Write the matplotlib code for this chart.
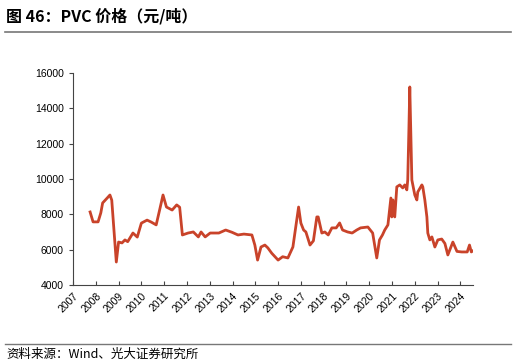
import matplotlib
matplotlib.use("Agg")
from matplotlib import pyplot as plt

plt.rcParams['font.family'] = ['Liberation Sans', 'Noto Sans CJK SC', 'DejaVu Sans']

# traced points: fractional year, price (yuan/ton)
years = [2007.75, 2007.88, 2008.10, 2008.22, 2008.30, 2008.50, 2008.62, 2008.70,
         2008.90, 2009.00, 2009.15, 2009.28, 2009.40, 2009.63, 2009.82, 2010.00,
         2010.25, 2010.43, 2010.65, 2010.80, 2010.95, 2011.10, 2011.35, 2011.55,
         2011.68, 2011.80, 2012.05, 2012.28, 2012.50, 2012.62, 2012.80, 2013.02,
         2013.40, 2013.70, 2013.98, 2014.24, 2014.50, 2014.85, 2014.98, 2015.10,
         2015.25, 2015.42, 2015.55, 2015.72, 2016.00, 2016.20, 2016.43, 2016.65,
         2016.80, 2016.90, 2017.00, 2017.12, 2017.22, 2017.40, 2017.55, 2017.70,
         2017.76, 2017.92, 2018.05, 2018.20, 2018.36, 2018.55, 2018.70, 2018.83,
         2019.05, 2019.25, 2019.45, 2019.62, 2019.94, 2020.15, 2020.33, 2020.45,
         2020.58, 2020.68, 2020.82, 2020.95, 2020.99, 2021.04, 2021.12, 2021.21,
         2021.34, 2021.47, 2021.56, 2021.65, 2021.69, 2021.74, 2021.78, 2021.87,
         2022.00, 2022.09, 2022.13, 2022.31, 2022.35, 2022.44, 2022.53, 2022.57,
         2022.66, 2022.75, 2022.88, 2023.01, 2023.18, 2023.32, 2023.45, 2023.67,
         2023.85, 2024.06, 2024.30, 2024.40, 2024.48, 2024.60]
prices = [8130, 7570, 7570, 8080, 8640, 8920, 9090, 8800,
          5300, 6430, 6380, 6550, 6450, 6940, 6710, 7500,
          7670, 7560, 7400, 8240, 9090, 8410, 8240, 8530,
          8400, 6830, 6940, 7000, 6720, 7000, 6720, 6940,
          6940, 7110, 6980, 6830, 6880, 6830, 6260, 5410,
          6150, 6260, 6100, 5800, 5410, 5600, 5530, 6150,
          7510, 8410, 7500, 7110, 7000, 6260, 6500, 7850,
          7850, 6940, 7000, 6830, 7230, 7230, 7510, 7110,
          7000, 6940, 7110, 7230, 7280, 6940, 5530, 6550,
          6830, 7110, 7400, 8920, 7850, 8810, 7850, 9550,
          9660, 9490, 9660, 9380, 9940, 12770, 15200, 9940,
          9090, 8810, 9260, 9660, 9550, 8810, 7850, 6940,
          6550, 6720, 6150, 6550, 6600, 6350, 5700, 6430,
          5900, 5870, 5870, 6260, 5870, 5980]
tick_years = list(range(2007, 2025))

fig = plt.figure(figsize=(5.16, 3.64), dpi=100)
ax = fig.add_axes([0.1415, 0.217, 0.775, 0.583])

ax.plot(years, prices, color='#c9432a', linewidth=2.0, solid_joinstyle='round')

ax.set_xlim(2007, 2024.55)
ax.set_ylim(4000, 16000)
ax.set_yticks(range(4000, 16001, 2000))
ax.set_xticks(tick_years)
ax.set_xticklabels([str(y) for y in tick_years], rotation=45, ha='right',
                   rotation_mode='anchor', fontsize=7.5)
ax.tick_params(axis='y', labelsize=7.5, direction='out', length=3, color='#444444')
ax.tick_params(axis='x', direction='in', length=3, color='#444444', pad=4)
for s in ['top', 'right']:
    ax.spines[s].set_visible(False)
for s in ['left', 'bottom']:
    ax.spines[s].set_color('#444444')
    ax.spines[s].set_linewidth(0.8)

# title and source
fig.text(0.012, 0.955, "图 46：PVC 价格（元/吨）", fontsize=11.5, fontweight='bold',
         family=['Noto Sans CJK SC', 'DejaVu Sans'], va='center', ha='left')
fig.add_artist(plt.Line2D([0.01, 0.99], [0.912, 0.912], color='#777777', linewidth=1.2))
fig.add_artist(plt.Line2D([0.01, 0.99], [0.055, 0.055], color='#777777', linewidth=1.0))
fig.text(0.012, 0.028, "资料来源：Wind、光大证券研究所", fontsize=9,
         family=['Noto Sans CJK SC', 'DejaVu Sans'], va='center', ha='left')

fig.savefig("out.png", dpi=100)
